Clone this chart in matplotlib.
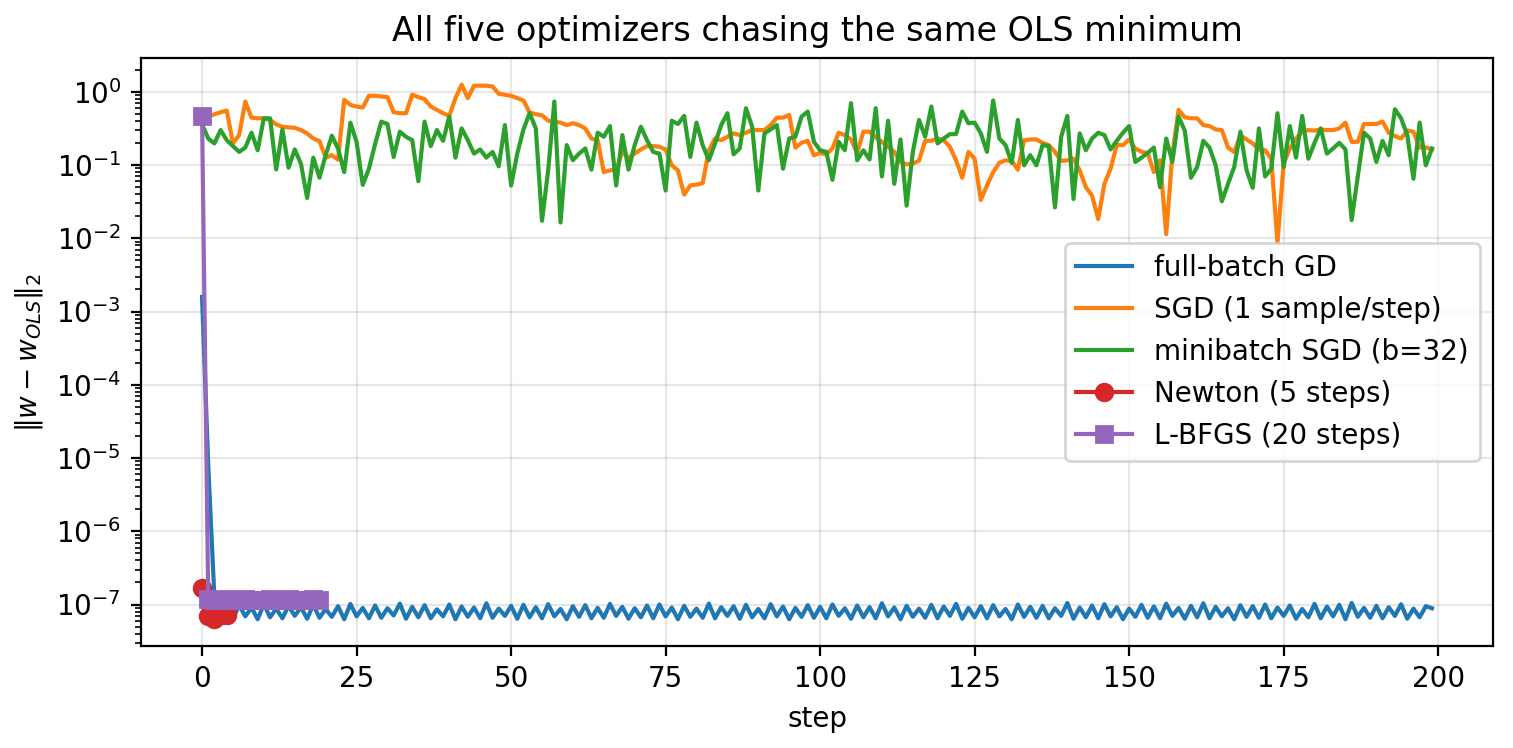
import numpy as np
import matplotlib
matplotlib.use("Agg")
import matplotlib.pyplot as plt

# ||w - w_OLS||_2 per step
gd_head = [1.58e-3, 8.0e-6]
# tail of full-batch GD, in units of 1e-8
gd_tail_e8 = [
    12.5, 6.6, 9.4, 6.4, 9.8, 6.9, 9.1, 6.3, 10.1, 6.7, 8.8, 6.5, 9.6, 7.0, 9.2, 6.4, 9.9, 6.6, 8.7, 6.8,
    9.5, 6.3, 10.2, 6.9, 9.0, 6.5, 9.7, 6.6, 8.9, 7.1, 10.3, 6.4, 9.3, 6.7, 9.8, 6.5, 8.6, 6.9, 10.0, 6.3,
    9.4, 6.8, 9.1, 6.5, 10.4, 6.6, 8.8, 7.0, 9.6, 6.4, 9.9, 6.7, 9.2, 6.5, 10.1, 6.9, 8.7, 6.3, 9.5, 6.8,
    9.8, 6.5, 9.0, 6.6, 10.2, 7.0, 9.3, 6.4, 8.9, 6.7, 9.7, 6.5, 10.0, 6.9, 9.1, 6.3, 9.6, 6.8, 8.8, 6.6,
    10.3, 6.5, 9.2, 7.0, 9.5, 6.4, 9.9, 6.7, 8.7, 6.5, 10.1, 6.9, 9.4, 6.3, 9.0, 6.8, 9.8, 6.6, 9.3, 6.5,
    10.0, 7.0, 8.9, 6.4, 9.7, 6.7, 9.2, 6.5, 10.4, 6.9, 9.1, 6.3, 9.6, 6.8, 8.8, 6.6, 9.9, 6.5, 9.4, 7.0,
    10.2, 6.4, 9.0, 6.7, 9.5, 6.5, 9.8, 6.9, 8.7, 6.3, 10.0, 6.8, 9.3, 6.6, 9.6, 6.5, 8.9, 7.0, 10.5, 6.4,
    9.1, 6.7, 9.7, 6.5, 10.1, 6.9, 9.2, 6.3, 8.8, 6.8, 9.9, 6.6, 9.4, 6.5, 10.3, 7.0, 9.0, 6.4, 9.6, 6.7,
    10.4, 6.5, 9.3, 6.9, 8.9, 6.3, 9.8, 6.8, 9.5, 6.6, 10.0, 6.5, 9.1, 7.0, 9.7, 6.4, 8.7, 6.7, 10.2, 6.5,
    9.4, 6.9, 9.9, 6.3, 10.5, 6.8, 9.0, 6.6, 9.6, 6.5, 9.2, 7.0, 10.1, 6.4, 8.8, 6.7, 9.5, 8.9,
]
gd_err = gd_head + [v * 1e-8 for v in gd_tail_e8]

sgd_err = [
    0.448, 0.458, 0.493, 0.525, 0.553, 0.197, 0.256, 0.736, 0.443, 0.434,
    0.434, 0.412, 0.359, 0.333, 0.326, 0.323, 0.300, 0.270, 0.230, 0.212,
    0.126, 0.136, 0.118, 0.776, 0.662, 0.628, 0.609, 0.881, 0.881, 0.862,
    0.845, 0.525, 0.509, 0.509, 0.909, 0.845, 0.793, 0.628, 0.565, 0.509,
    0.468, 0.818, 1.248, 0.818, 1.21, 1.21, 1.21, 1.18, 0.939, 0.909,
    0.881, 0.818, 0.760, 0.520, 0.493, 0.477, 0.403, 0.391, 0.379, 0.351,
    0.371, 0.351, 0.316, 0.230, 0.218, 0.080, 0.0845, 0.0865, 0.151, 0.126,
    0.143, 0.163, 0.181, 0.181, 0.177, 0.163, 0.099, 0.0845, 0.0395, 0.0525,
    0.054, 0.0565, 0.159, 0.230, 0.218, 0.243, 0.270, 0.256, 0.276, 0.300,
    0.300, 0.300, 0.351, 0.443, 0.443, 0.482, 0.173, 0.201, 0.214, 0.136,
    0.146, 0.140, 0.168, 0.276, 0.256, 0.223, 0.146, 0.285, 0.285, 0.238,
    0.207, 0.177, 0.151, 0.110, 0.102, 0.104, 0.115, 0.214, 0.214, 0.230,
    0.218, 0.177, 0.116, 0.067, 0.151, 0.122, 0.0333, 0.0525, 0.080, 0.107,
    0.116, 0.1135, 0.0863, 0.218, 0.223, 0.223, 0.201, 0.187, 0.151, 0.1135,
    0.116, 0.122, 0.0845, 0.0498, 0.0383, 0.0183, 0.0553, 0.089, 0.187, 0.187,
    0.223, 0.168, 0.151, 0.146, 0.080, 0.116, 0.0114, 0.143, 0.565, 0.448,
    0.434, 0.434, 0.351, 0.340, 0.306, 0.300, 0.173, 0.151, 0.256, 0.223,
    0.197, 0.163, 0.159, 0.122, 0.0087, 0.104, 0.168, 0.230, 0.285, 0.300,
    0.295, 0.306, 0.300, 0.300, 0.316, 0.379, 0.207, 0.207, 0.363, 0.363,
    0.363, 0.391, 0.276, 0.248, 0.230, 0.295, 0.285, 0.173, 0.173, 0.163,
]

mb_err = [
    0.359, 0.230, 0.197, 0.300, 0.218, 0.181, 0.151, 0.173, 0.276, 0.159,
    0.434, 0.434, 0.0871, 0.306, 0.0919, 0.163, 0.104, 0.0355, 0.126, 0.067,
    0.136, 0.251, 0.168, 0.080, 0.378, 0.207, 0.0536, 0.089, 0.193, 0.391,
    0.363, 0.129, 0.285, 0.243, 0.218, 0.0602, 0.391, 0.181, 0.300, 0.214,
    0.458, 0.126, 0.316, 0.218, 0.143, 0.163, 0.126, 0.151, 0.096, 0.351,
    0.0525, 0.143, 0.306, 0.509, 0.316, 0.0173, 0.0845, 0.736, 0.0164, 0.187,
    0.116, 0.143, 0.168, 0.0863, 0.276, 0.243, 0.340, 0.0525, 0.256, 0.0863,
    0.187, 0.333, 0.218, 0.151, 0.143, 0.0448, 0.403, 0.363, 0.468, 0.129,
    0.379, 0.187, 0.116, 0.197, 0.351, 0.509, 0.140, 0.168, 0.596, 0.333,
    0.0448, 0.270, 0.306, 0.351, 0.089, 0.230, 0.243, 0.458, 0.536, 0.207,
    0.159, 0.151, 0.0628, 0.207, 0.159, 0.698, 0.116, 0.159, 0.119, 0.596,
    0.0698, 0.403, 0.0553, 0.223, 0.0279, 0.150, 0.412, 0.243, 0.628, 0.197,
    0.230, 0.264, 0.264, 0.536, 0.371, 0.379, 0.270, 0.151, 0.760, 0.230,
    0.187, 0.107, 0.412, 0.099, 0.136, 0.099, 0.187, 0.181, 0.0264, 0.243,
    0.468, 0.0344, 0.270, 0.159, 0.230, 0.276, 0.256, 0.163, 0.214, 0.276,
    0.340, 0.110, 0.126, 0.146, 0.173, 0.0498, 0.230, 0.110, 0.458, 0.294,
    0.067, 0.0938, 0.214, 0.173, 0.099, 0.032, 0.0553, 0.0938, 0.285, 0.0845,
    0.0488, 0.316, 0.0698, 0.089, 0.509, 0.0938, 0.340, 0.126, 0.468, 0.122,
    0.201, 0.316, 0.143, 0.168, 0.201, 0.163, 0.0177, 0.0698, 0.276, 0.230,
    0.110, 0.214, 0.136, 0.577, 0.434, 0.256, 0.0649, 0.379, 0.099, 0.168,
]

newton_err = [1.7e-7, 6.9e-8, 6.3e-8, 7.1e-8, 7.3e-8]

lbfgs_err = [0.47, 1.18e-7, 1.16e-7, 1.17e-7, 1.18e-7, 1.17e-7, 1.16e-7, 1.18e-7, 1.17e-7, 1.17e-7,
             1.16e-7, 1.18e-7, 1.17e-7, 1.16e-7, 1.18e-7, 1.17e-7, 1.17e-7, 1.16e-7, 1.18e-7, 1.17e-7]

fig = plt.figure(figsize=(1513 / 200, 748 / 200), dpi=200)
ax = fig.add_axes([0.0929, 0.1364, 0.8942, 0.7861])

ax.plot(np.arange(len(gd_err)), gd_err, label="full-batch GD")
ax.plot(np.arange(len(sgd_err)), sgd_err, label="SGD (1 sample/step)")
ax.plot(np.arange(len(mb_err)), mb_err, label="minibatch SGD (b=32)")
ax.plot(np.arange(len(newton_err)), newton_err, marker="o", label="Newton (5 steps)")
ax.plot(np.arange(len(lbfgs_err)), lbfgs_err, marker="s", label="L-BFGS (20 steps)")

ax.set_yscale("log")
ax.set_title("All five optimizers chasing the same OLS minimum")
ax.set_xlabel("step")
ax.set_ylabel(r"$\|w - w_{OLS}\|_2$")
ax.grid(True, alpha=0.3)
ax.legend(loc="center right")

fig.savefig("out.png", dpi=200)
